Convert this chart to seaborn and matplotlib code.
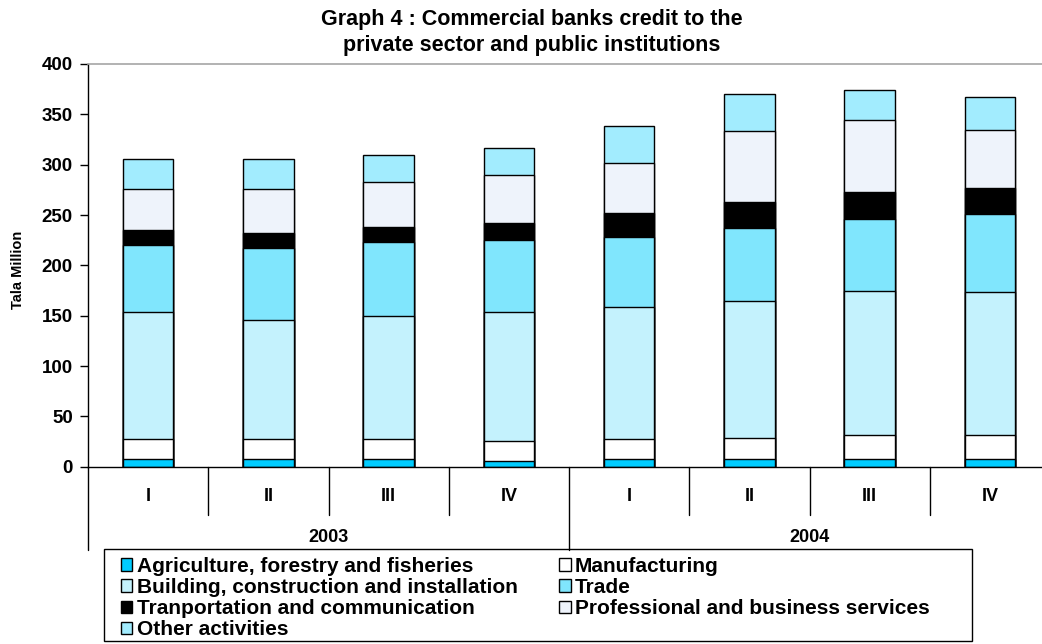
import numpy as np
import pandas as pd
import matplotlib
matplotlib.use("Agg")
import matplotlib.pyplot as plt
import matplotlib.transforms as mtransforms
from matplotlib.patches import Patch, Rectangle
import seaborn as sns

# Quarterly credit by sector (Tala million)
years = ["2003", "2004"]
quarters = ["I", "II", "III", "IV"]
periods = [f"{y} {q}" for y in years for q in quarters]

agriculture = [7.3, 7.3, 7.3, 6.0, 7.3, 7.3, 7.3, 7.3]
manufacturing = [20.0, 20.0, 20.0, 20.0, 20.0, 21.0, 24.0, 24.5]
building = [126.0, 118.0, 122.0, 128.0, 131.0, 136.0, 143.0, 142.0]
trade = [67.0, 72.0, 74.0, 71.0, 70.0, 73.0, 72.0, 77.0]
transport = [15.0, 15.0, 15.0, 17.0, 24.0, 26.0, 27.0, 26.0]
professional = [41.0, 44.0, 44.0, 47.5, 49.0, 70.0, 71.0, 58.0]
other = [29.0, 29.0, 27.0, 27.0, 37.0, 36.5, 30.0, 32.5]

sector_names = [
    "Agriculture, forestry and fisheries",
    "Manufacturing",
    "Building, construction and installation",
    "Trade",
    "Tranportation and communication",
    "Professional and business services",
    "Other activities",
]
sector_values = [agriculture, manufacturing, building, trade, transport,
                 professional, other]
sector_colors = ["#00CCFF", "#FFFFFF", "#C4F2FD", "#80E6FD", "#000000",
                 "#EEF3FB", "#A2ECFE"]

sns.set_theme(style="white")
plt.rcParams["font.family"] = ["Liberation Sans", "DejaVu Sans"]
plt.rcParams["font.weight"] = "bold"
for key in ["text.color", "axes.labelcolor", "xtick.color", "ytick.color"]:
    plt.rcParams[key] = "black"

W, H = 1042, 644
fig = plt.figure(figsize=(W / 100, H / 100), dpi=100)
ax_left, ax_right, ax_top, ax_bottom = 88, 1050, 64, 466.7
axw = ax_right - ax_left
axh = ax_bottom - ax_top
ax = fig.add_axes([ax_left / W, 1 - ax_bottom / H, axw / W, axh / H])

# Stacked bars: draw cumulative totals from the top layer down
df = pd.DataFrame({name: vals for name, vals in zip(sector_names, sector_values)})
df["period"] = periods
cum = df[sector_names].cumsum(axis=1)
for name, color in reversed(list(zip(sector_names, sector_colors))):
    sns.barplot(x=df["period"], y=cum[name], order=periods, color=color,
                saturation=1, width=0.42, edgecolor="black", linewidth=1.0,
                errorbar=None, ax=ax)

ax.set_xlim(-0.5, len(periods) - 0.5)
ax.set_ylim(0, 400)
ax.set_yticks(np.arange(0, 401, 50))
ax.tick_params(axis="y", which="both", left=True, length=6, width=1,
               color="black", pad=5, labelsize=13.5)
for lbl in ax.get_yticklabels():
    lbl.set_fontweight("bold")
ax.set_xticks([])
ax.set_xlabel("")
ax.set_ylabel("Tala Million", fontsize=10.5, fontweight="bold")
ax.yaxis.set_label_coords((25 - ax_left) / axw, 0.49)

for side in ["left", "bottom"]:
    ax.spines[side].set_visible(True)
    ax.spines[side].set_color("black")
    ax.spines[side].set_linewidth(1)
ax.spines["top"].set_color("#A6A6A6")
ax.spines["top"].set_linewidth(1.2)
ax.spines["right"].set_visible(False)

# Two-level category axis below the bars
trans = mtransforms.blended_transform_factory(ax.transData, ax.transAxes)
q_drop = -48 / axh
y_drop = -83 / axh
for i in range(len(periods) + 1):
    xpos = i - 0.5
    low = y_drop if i % 4 == 0 else q_drop
    ax.plot([xpos, xpos], [0, low], color="black", lw=1,
            transform=trans, clip_on=False)
for i, p in enumerate(periods):
    ax.text(i, -30 / axh, p.split(" ")[1], transform=trans, ha="center",
            va="center", fontsize=13, fontweight="bold")
for j, y in enumerate(years):
    ax.text(j * 4 + 1.5, -71 / axh, y, transform=trans, ha="center",
            va="center", fontsize=13, fontweight="bold")

fig.text(532 / W, 1 - 19 / H, "Graph 4 : Commercial banks credit to the",
         ha="center", va="center", fontsize=15.5, fontweight="bold")
fig.text(532 / W, 1 - 46 / H, "private sector and public institutions",
         ha="center", va="center", fontsize=15.5, fontweight="bold")

# Legend: column-major order gives two columns of four and three rows
order = [0, 2, 4, 6, 1, 3, 5]
handles = [Patch(facecolor=sector_colors[k], edgecolor="black", linewidth=1)
           for k in order]
labels = [sector_names[k] for k in order]
lx0, lx1, ly0, ly1 = 104, 972, 549, 641
fig.patches.append(Rectangle((lx0 / W, 1 - ly1 / H), (lx1 - lx0) / W,
                             (ly1 - ly0) / H, transform=fig.transFigure,
                             fill=False, edgecolor="black", linewidth=1))
leg = fig.legend(handles, labels, loc="upper left", ncol=2,
                 bbox_to_anchor=(121 / W, 1 - 557 / H),
                 bbox_transform=fig.transFigure, frameon=False,
                 borderaxespad=0, borderpad=0,
                 prop={"size": 15, "weight": "bold"}, handlelength=0.55,
                 handleheight=0.55, handletextpad=0.2, labelspacing=0.1,
                 columnspacing=2.0)

fig.savefig("out.png", dpi=100)
